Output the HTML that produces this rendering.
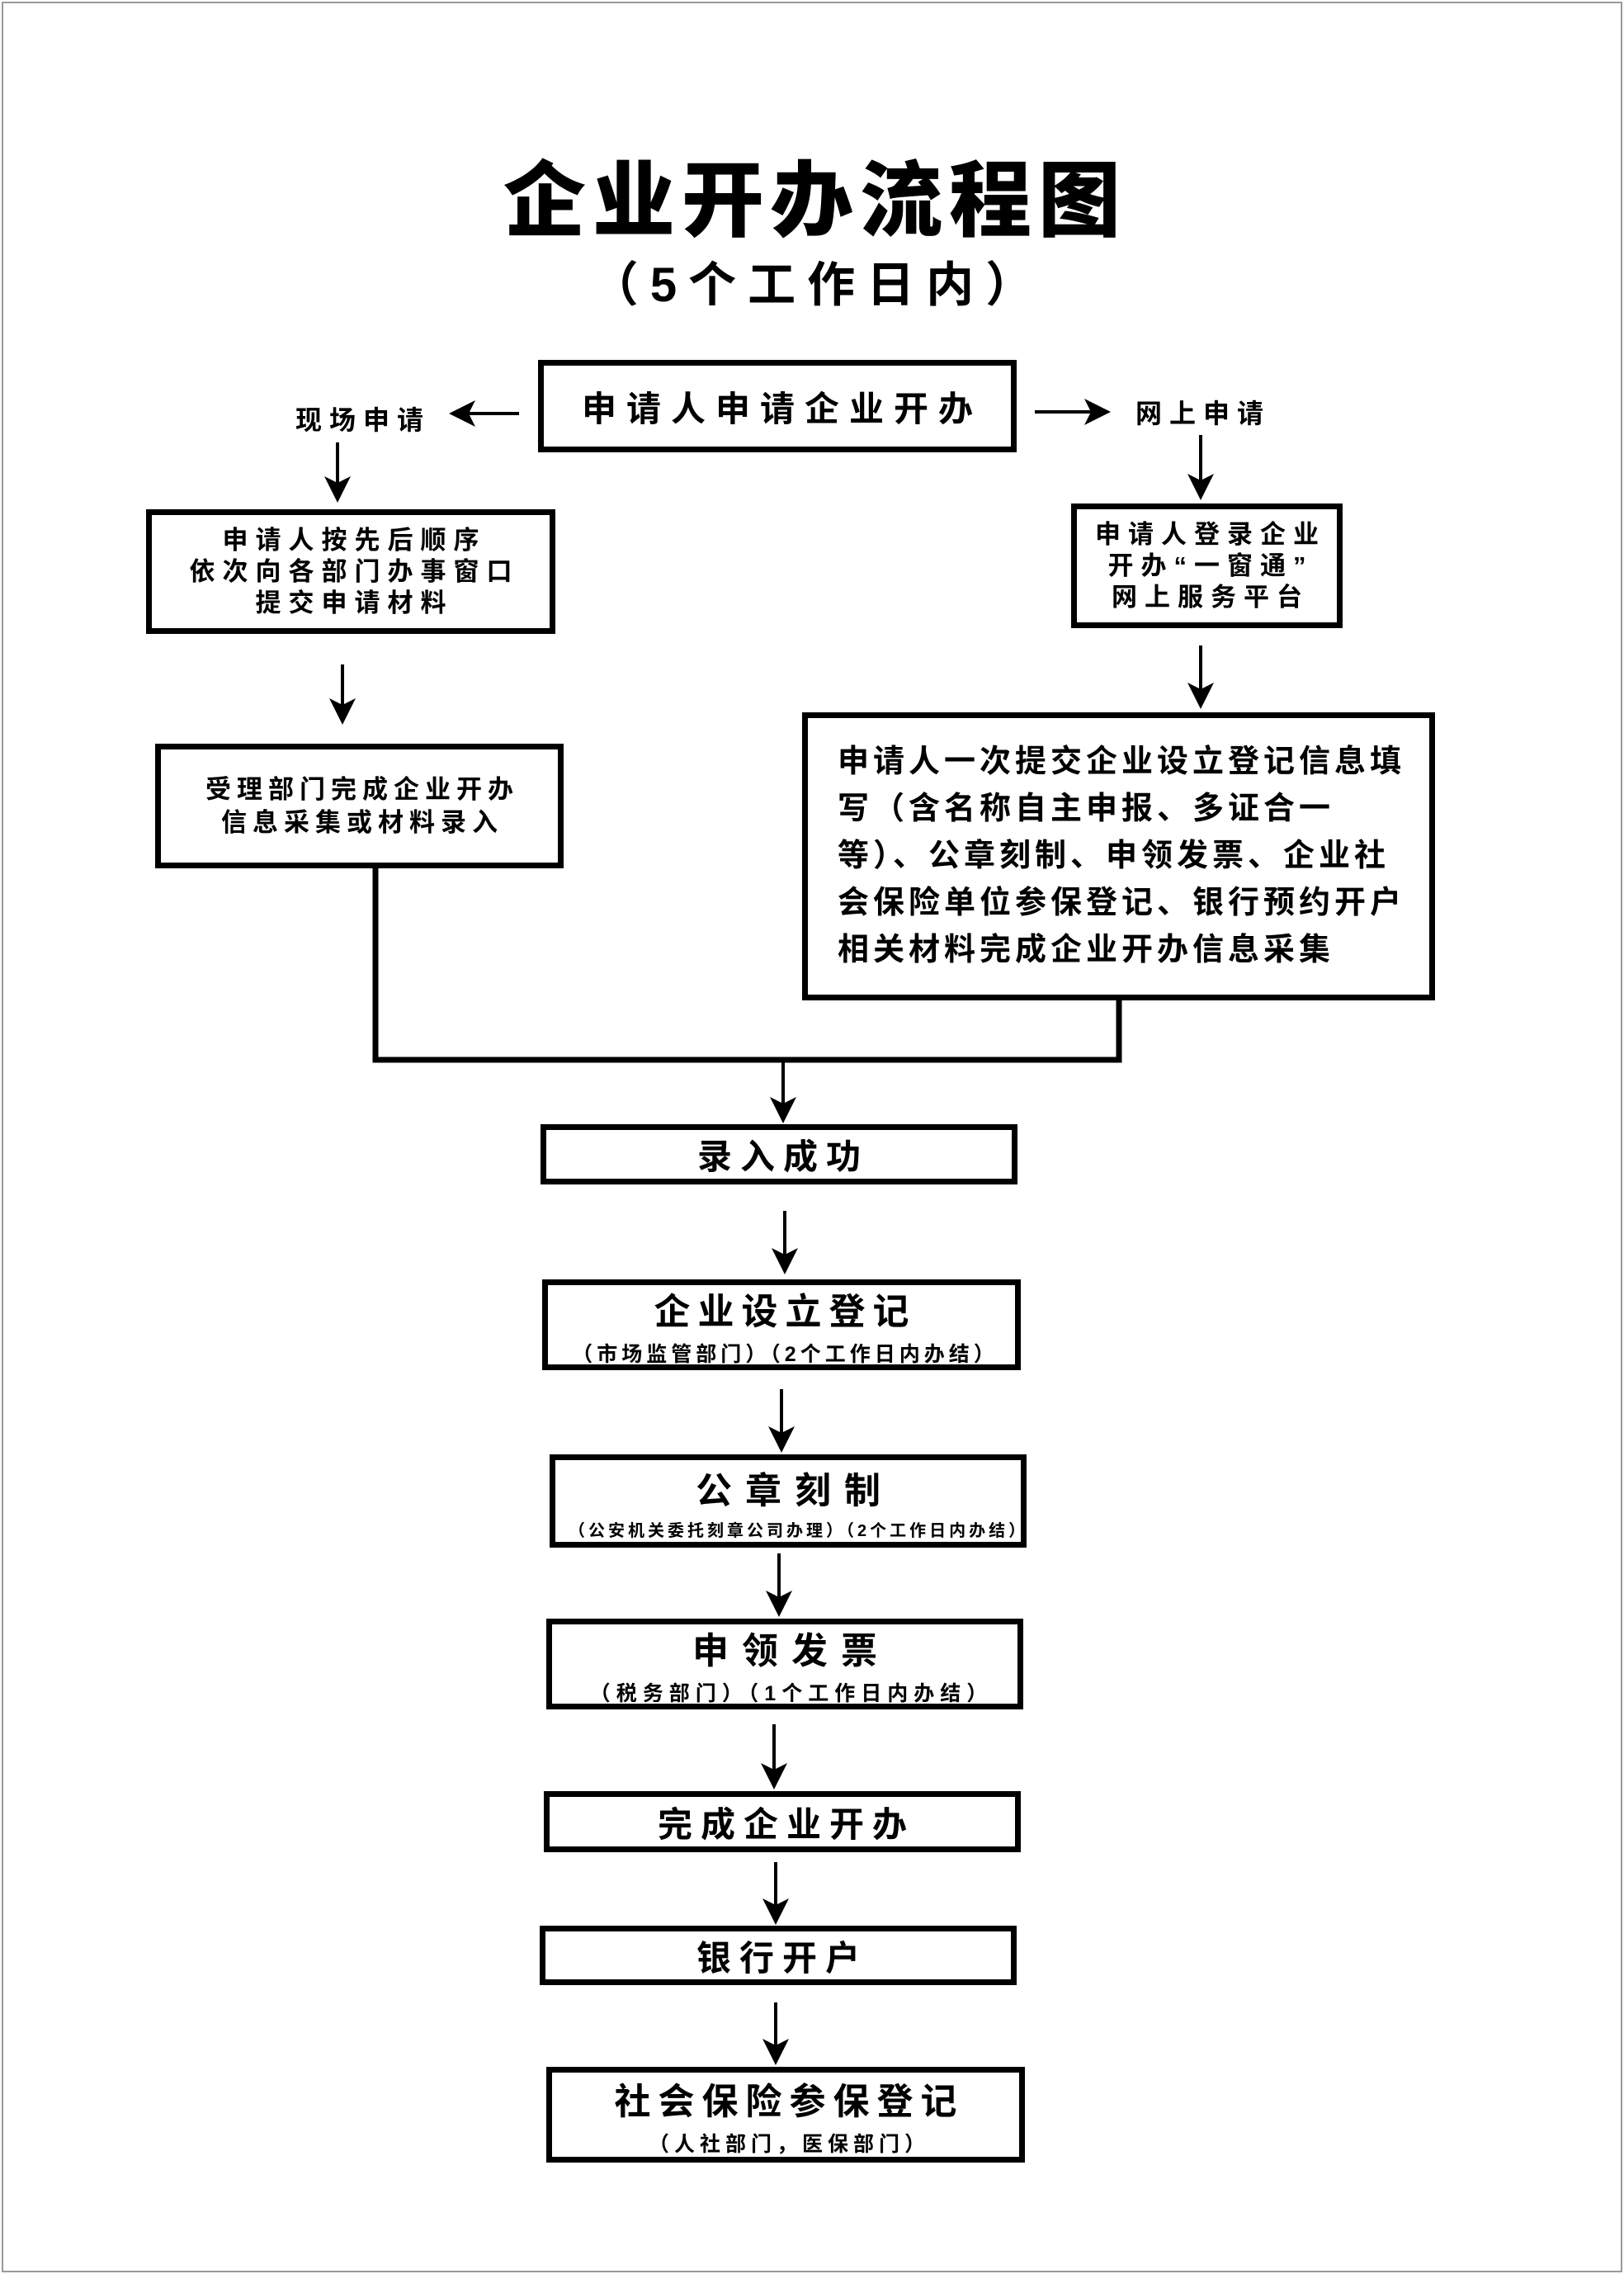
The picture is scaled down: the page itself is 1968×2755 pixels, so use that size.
<!DOCTYPE html>
<html><head><meta charset="utf-8"><style>
*{margin:0;padding:0;box-sizing:border-box}
body{width:1968px;height:2755px;background:#fff;position:relative;overflow:hidden;font-family:"Liberation Sans","Noto Sans CJK SC",sans-serif;font-weight:bold;color:#000}
.frame{position:absolute;left:2px;top:2px;width:1964px;height:2751px;border:2px solid #999}
.b{position:absolute;border:7px solid #000;display:flex;flex-direction:column;align-items:center;justify-content:center;text-align:center;background:#fff}
.t{position:absolute;white-space:nowrap}
.sub{font-size:25px;margin-top:4px}
svg{position:absolute;left:0;top:0}
</style></head><body>
<div class="frame"></div>
<div class="t" style="left:0;width:1968px;text-align:center;top:162px;font-size:100px;font-weight:900;letter-spacing:8px;padding-left:8px">企业开办流程图</div>
<div class="t" style="left:0;width:1968px;text-align:center;top:298px;font-size:58px;letter-spacing:14px;padding-left:14px">（5个工作日内）</div>

<div class="b" style="left:652px;top:436px;width:580px;height:112px;font-size:42px;letter-spacing:12px;padding-left:12px">申请人申请企业开办</div>
<div class="t" style="left:358px;top:484px;font-size:32px;letter-spacing:9px">现场申请</div>
<div class="t" style="left:1376px;top:476px;font-size:32px;letter-spacing:9px">网上申请</div>

<div class="b" style="left:177px;top:617px;width:496px;height:151px;font-size:31px;line-height:38px;letter-spacing:9px;padding-left:9px">申请人按先后顺序<br>依次向各部门办事窗口<br>提交申请材料</div>
<div class="b" style="left:1298px;top:610px;width:329px;height:151px;font-size:31px;line-height:38px;letter-spacing:9px;padding-left:9px">申请人登录企业<br>开办“一窗通”<br>网上服务平台</div>
<div class="b" style="left:188px;top:901px;width:495px;height:151px;font-size:31px;line-height:40px;letter-spacing:7px;padding-left:7px">受理部门完成企业开办<br>信息采集或材料录入</div>
<div class="b" style="left:972px;top:863px;width:767px;height:349px;font-size:38px;line-height:57px;align-items:flex-start;text-align:left;padding-left:36px;letter-spacing:5px">申请人一次提交企业设立登记信息填<br>写（含名称自主申报、多证合一<br>等）、公章刻制、申领发票、企业社<br>会保险单位参保登记、银行预约开户<br>相关材料完成企业开办信息采集</div>

<div class="b" style="left:655px;top:1362px;width:578px;height:73px;font-size:42px;letter-spacing:10px;padding-left:10px">录入成功</div>
<div class="b" style="left:657px;top:1550px;width:580px;height:110px;font-size:44px;letter-spacing:9px;padding-left:9px">企业设立登记<div class="sub" style="letter-spacing:5px">（市场监管部门）（2个工作日内办结）</div></div>
<div class="b" style="left:666px;top:1762px;width:578px;height:113px;font-size:44px;letter-spacing:16px;padding-left:16px">公章刻制<div class="sub" style="font-size:20px;letter-spacing:4px">（公安机关委托刻章公司办理）（2个工作日内办结）</div></div>
<div class="b" style="left:662px;top:1961px;width:578px;height:110px;font-size:44px;letter-spacing:16px;padding-left:16px">申领发票<div class="sub" style="letter-spacing:7px">（税务部门）（1个工作日内办结）</div></div>
<div class="b" style="left:659px;top:2170px;width:578px;height:74px;font-size:42px;letter-spacing:10px;padding-left:10px">完成企业开办</div>
<div class="b" style="left:654px;top:2333px;width:578px;height:72px;font-size:42px;letter-spacing:10px;padding-left:10px">银行开户</div>
<div class="b" style="left:662px;top:2504px;width:580px;height:116px;font-size:44px;letter-spacing:9px;padding-left:9px">社会保险参保登记<div class="sub" style="letter-spacing:6px">（人社部门，医保部门）</div></div>

<svg width="1968" height="2755" viewBox="0 0 1968 2755">
<defs><marker id="a" markerWidth="8" markerHeight="8" refX="7" refY="4" orient="auto" markerUnits="strokeWidth"><path d="M0,0 L8,4 L0,8 L2,4 z" fill="#000"/></marker></defs>
<g stroke="#000" stroke-width="4" fill="none" marker-end="url(#a)">
<line x1="629" y1="501" x2="548" y2="501"/>
<line x1="1254" y1="499" x2="1342" y2="499"/>
<line x1="409" y1="536" x2="409" y2="605"/>
<line x1="1455" y1="527" x2="1455" y2="602"/>
<line x1="415" y1="805" x2="415" y2="874"/>
<line x1="1455" y1="782" x2="1455" y2="855"/>
<line x1="949" y1="1286" x2="949" y2="1357"/>
<line x1="951" y1="1467" x2="951" y2="1540"/>
<line x1="947" y1="1683" x2="947" y2="1756"/>
<line x1="944" y1="1882" x2="944" y2="1955"/>
<line x1="938" y1="2089" x2="938" y2="2164"/>
<line x1="940" y1="2256" x2="940" y2="2328"/>
<line x1="940" y1="2426" x2="940" y2="2498"/>
</g>
<polyline points="455,1052 455,1284 1356,1284 1356,1212" stroke="#000" stroke-width="7" fill="none"/>
</svg>
</body></html>
